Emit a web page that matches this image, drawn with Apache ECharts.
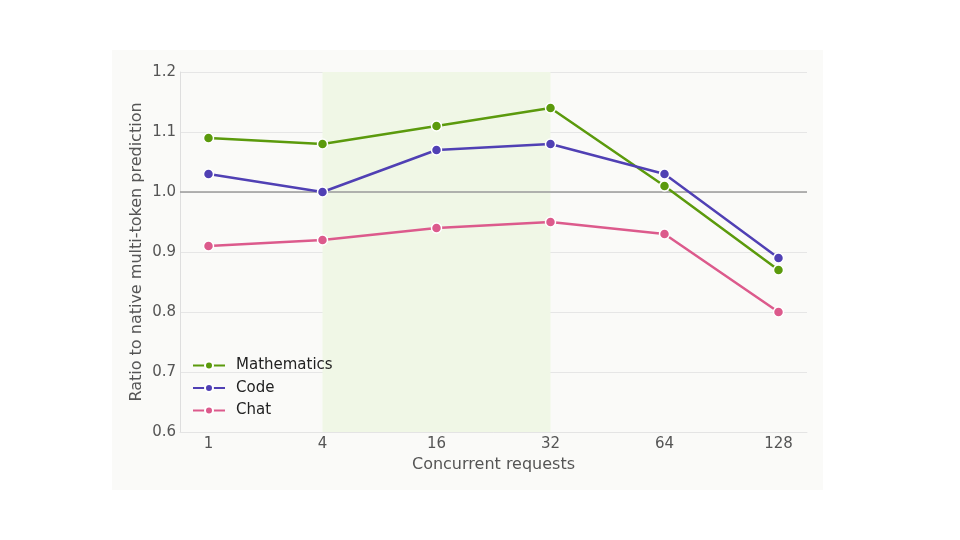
<!DOCTYPE html>
<html>
<head>
<meta charset="utf-8">
<script src="https://cdn.jsdelivr.net/npm/echarts@6/dist/echarts.min.js"></script>
<style>
  html, body { margin: 0; padding: 0; background: #fff; }
  #chart { width: 960px; height: 540px; }
</style>
</head>
<body>
<div id="chart"></div>
<script>
// Concurrency levels (x categories)
var categories = ['1', '4', '16', '32', '64', '128'];

// Ratio to native multi-token prediction
var mathematics = [1.09, 1.08, 1.11, 1.14, 1.01, 0.87];
var code        = [1.03, 1.00, 1.07, 1.08, 1.03, 0.89];
var chat        = [0.91, 0.92, 0.94, 0.95, 0.93, 0.80];

// Highlighted range (category indices) and reference line
var bandRange = [1, 3];
var refLine = 1.0;

var FONT = "'DejaVu Sans', sans-serif";

var chartEl = document.getElementById('chart');
var chart = echarts.init(chartEl);

var toPairs = function(arr) {
    return arr.map(function(v, i) { return [i, v]; });
};

var lineSeries = function(name, color, values) {
    return {
        name: name,
        type: 'line',
        data: toPairs(values),
        symbol: 'circle',
        symbolSize: 10,
        lineStyle: { color: color, width: 2.5 },
        itemStyle: { color: color, borderColor: '#fff', borderWidth: 1.5 },
        z: 5
    };
};

var series = [
    lineSeries('Mathematics', '#5b9a0c', mathematics),
    lineSeries('Code', '#5040b4', code),
    lineSeries('Chat', '#dc5a8c', chat)
];

// Shaded band and 1.0 baseline on a silent helper series
series.push({
    type: 'line',
    data: [],
    silent: true,
    markArea: {
        silent: true,
        itemStyle: { color: '#f0f7e6' },
        data: [[{ xAxis: bandRange[0] }, { xAxis: bandRange[1] }]]
    },
    markLine: {
        silent: true,
        symbol: 'none',
        label: { show: false },
        lineStyle: { color: '#9a9a9a', width: 1.5, type: 'solid' },
        data: [{ yAxis: refLine }]
    },
    z: 1
});

var option = {
    animation: false,
    textStyle: { fontFamily: FONT },
    graphic: [{
        type: 'rect',
        shape: { x: 112, y: 50, width: 711, height: 440 },
        style: { fill: '#fafaf8' },
        z: -10,
        silent: true
    }],
    grid: { left: 180, top: 72, right: 153, bottom: 108 },
    legend: {
        orient: 'vertical',
        left: 187,
        top: 353,
        itemWidth: 32,
        itemHeight: 10,
        itemGap: 7.5,
        data: ['Mathematics', 'Code', 'Chat'],
        textStyle: {
            color: '#222',
            fontSize: 15,
            padding: [0, 0, 0, 6],
            fontFamily: FONT
        }
    },
    xAxis: {
        type: 'value',
        min: -0.25,
        max: 5.25,
        name: 'Concurrent requests',
        nameLocation: 'middle',
        nameGap: 22,
        nameTextStyle: { color: '#555', fontSize: 16, fontFamily: FONT },
        axisLine: { show: true, onZero: false, lineStyle: { color: '#e4e4e4' } },
        axisTick: { show: false },
        splitLine: { show: false },
        axisLabel: {
            customValues: [0, 1, 2, 3, 4, 5],
            color: '#555',
            fontSize: 15,
            margin: 5,
            fontFamily: FONT,
            formatter: function(v) { return categories[Math.round(v)]; }
        }
    },
    yAxis: {
        type: 'value',
        min: 0.6,
        max: 1.2,
        interval: 0.1,
        name: 'Ratio to native multi-token prediction',
        nameLocation: 'middle',
        nameGap: 35,
        nameMoveOverlap: false,
        nameTextStyle: { color: '#555', fontSize: 16, fontFamily: FONT },
        axisLine: { show: true, onZero: false, lineStyle: { color: '#dedede' } },
        axisTick: { show: false },
        splitLine: { lineStyle: { color: '#e6e6e6', width: 1 } },
        axisLabel: {
            color: '#555',
            fontSize: 15,
            margin: 4,
            fontFamily: FONT,
            formatter: function(v) { return v.toFixed(1); }
        }
    },
    series: series
};

chart.setOption(option);

window.addEventListener('resize', function() { chart.resize(); });
</script>
</body>
</html>
